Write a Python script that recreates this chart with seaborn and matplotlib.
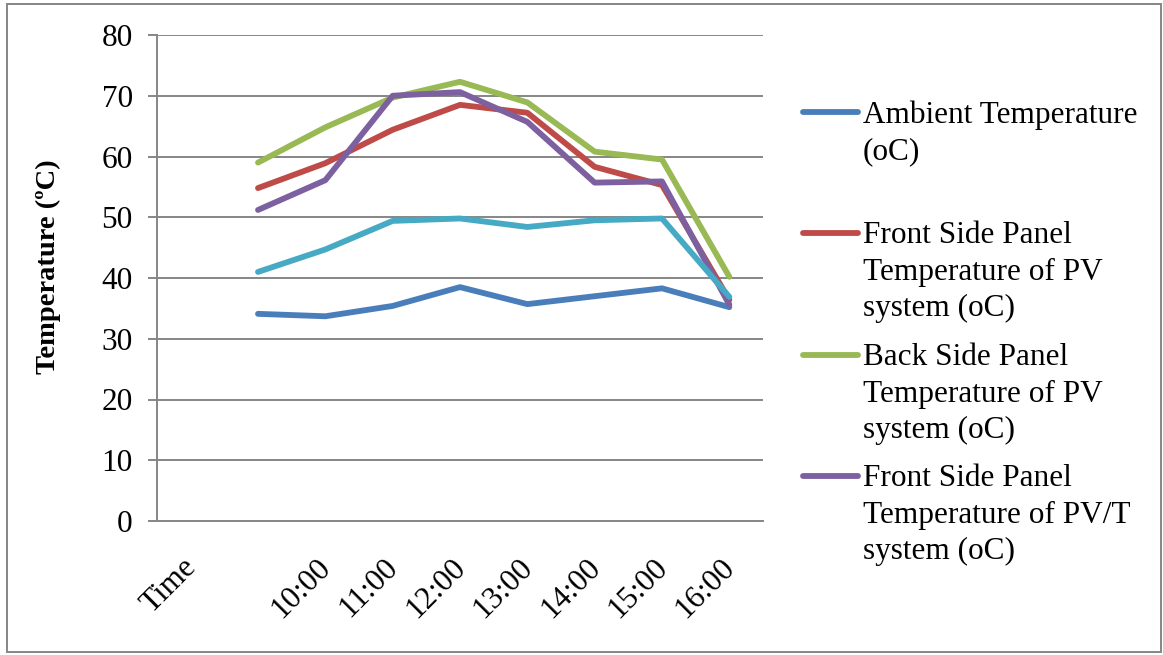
import numpy as np
import pandas as pd
import matplotlib
matplotlib.use("Agg")
import matplotlib.pyplot as plt
import seaborn as sns
from matplotlib.lines import Line2D
from matplotlib.patches import Rectangle
from matplotlib.transforms import ScaledTranslation

# Category axis: the first slot carries the "Time" caption, the second an unlabeled reading
categories = ["Time", "", "10:00", "11:00", "12:00", "13:00", "14:00", "15:00", "16:00"]

ambient = [np.nan, 34.1, 33.7, 35.4, 38.5, 35.7, 37.0, 38.3, 35.2]
front_pv = [np.nan, 54.8, 58.9, 64.4, 68.5, 67.2, 58.3, 55.3, 36.4]
back_pv = [np.nan, 59.0, 64.8, 69.7, 72.3, 68.9, 60.8, 59.5, 40.2]
front_pvt = [np.nan, 51.2, 56.1, 70.0, 70.6, 65.7, 55.7, 55.9, 35.6]
back_pvt = [np.nan, 41.0, 44.7, 49.4, 49.8, 48.4, 49.5, 49.8, 36.9]

series_names = [
    "Ambient Temperature\n(oC)",
    "Front Side Panel\nTemperature of PV\nsystem (oC)",
    "Back Side Panel\nTemperature of PV\nsystem (oC)",
    "Front Side Panel\nTemperature of PV/T\nsystem (oC)",
    "Back Side Panel\nTemperature of PV/T\nsystem (oC)",
]
series_values = [ambient, front_pv, back_pv, front_pvt, back_pvt]
colors = ["#4A7EBB", "#BE4B48", "#98B954", "#7D60A0", "#46AAC5"]
legend_count = 4  # legend lists the first four series

rows = []
for name, vals in zip(series_names, series_values):
    for pos, v in enumerate(vals):
        rows.append({"pos": pos, "temp": v, "series": name})
df = pd.DataFrame(rows).dropna()

sns.set_theme(style="white")
plt.rcParams["font.family"] = ["Liberation Serif", "DejaVu Serif"]

W, H = 1163, 655
fig = plt.figure(figsize=(W / 100, H / 100), dpi=100)
fig.patch.set_facecolor("white")

ax_l, ax_r, ax_t, ax_b = 157, 763, 35, 521
ax = fig.add_axes([ax_l / W, 1 - ax_b / H, (ax_r - ax_l) / W, (ax_b - ax_t) / H])

grey = "#868686"
lw = 4.2

sns.lineplot(
    data=df, x="pos", y="temp", hue="series", hue_order=series_names,
    palette=colors, linewidth=lw, legend=False, ax=ax,
    solid_capstyle="round", solid_joinstyle="round",
)

ax.set_xlim(-0.5, len(categories) - 0.5)
ax.set_ylim(0, 80)
ax.set_yticks(np.arange(0, 81, 10))
ax.yaxis.grid(True, color=grey, linewidth=1.4)
ax.xaxis.grid(False)
ax.set_axisbelow(True)

for side in ["top", "right"]:
    ax.spines[side].set_visible(False)
for side in ["left", "bottom"]:
    ax.spines[side].set_color(grey)
    ax.spines[side].set_linewidth(1.4)

ax.set_xticks(np.arange(len(categories)))
ax.set_xticklabels(categories, rotation=45, ha="right", rotation_mode="anchor")
ax.set_xticks(np.arange(len(categories) + 1) - 0.5, minor=True)
ax.tick_params(axis="x", which="major", length=0, pad=23, labelsize=22.5, labelcolor="black")
ax.tick_params(axis="x", which="minor", direction="out", length=6.5, width=1.4, color=grey)
ax.tick_params(axis="y", direction="out", length=6.5, width=1.4, color=grey,
               pad=11, labelsize=22.5, labelcolor="black", left=True)
shift = ScaledTranslation(-9 / 100, 0, fig.dpi_scale_trans)
for lab in ax.get_xticklabels():
    lab.set_transform(lab.get_transform() + shift)

ax.set_xlabel("")
ax.set_ylabel("Temperature (ºC)", fontsize=20.5, fontweight="bold", color="black")
ax.yaxis.set_label_coords((61 - ax_l) / (ax_r - ax_l), (ax_b - 267) / (ax_b - ax_t))

# Legend with the key aligned to the first line of each entry
handle_y = [112, 233, 355, 476]
for i in range(legend_count):
    y = handle_y[i]
    fig.add_artist(Line2D([803 / W, 858 / W], [1 - y / H, 1 - y / H],
                          color=colors[i], linewidth=lw, solid_capstyle="round"))
    fig.text(863 / W, 1 - (y - 12) / H, series_names[i], fontsize=22.5,
             va="top", ha="left", linespacing=1.345, color="black")

# Chart frame
fig.add_artist(Rectangle((7 / W, 1 - 652 / H), (1161 - 7) / W, (652 - 4) / H,
                         transform=fig.transFigure, fill=False,
                         edgecolor=grey, linewidth=1.4))

fig.savefig("out.png", dpi=100)
